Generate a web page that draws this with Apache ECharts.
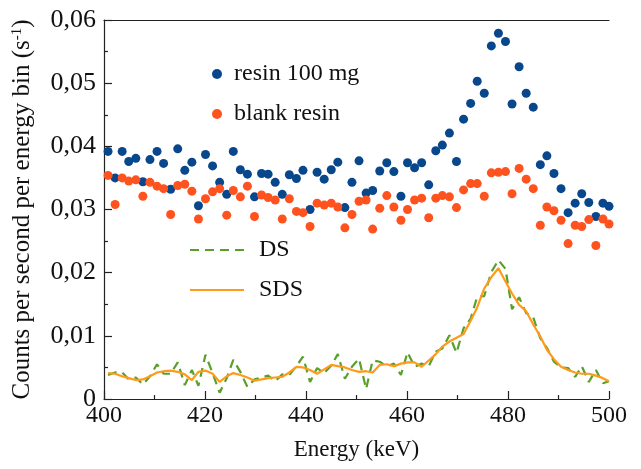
<!DOCTYPE html>
<html>
<head>
<meta charset="utf-8">
<script src="https://cdn.jsdelivr.net/npm/echarts@6/dist/echarts.min.js"></script>
<style>
html, body { margin: 0; padding: 0; background: #fff; }
#chart { width: 641px; height: 469px; }
</style>
</head>
<body>
<div id="chart"></div>
<script>
// ************ data ************
var energy = [
    400.8, 402.2, 403.6, 404.9, 406.3, 407.7, 409.1, 410.5, 411.8, 413.2,
    414.6, 416.0, 417.4, 418.7, 420.1, 421.5, 422.9, 424.3, 425.6, 427.0,
    428.4, 429.8, 431.2, 432.5, 433.9, 435.3, 436.7, 438.1, 439.4, 440.8,
    442.2, 443.6, 445.0, 446.3, 447.7, 449.1, 450.5, 451.9, 453.2, 454.6,
    456.0, 457.4, 458.8, 460.1, 461.5, 462.9, 464.3, 465.7, 467.0, 468.4,
    469.8, 471.2, 472.6, 473.9, 475.3, 476.7, 478.1, 479.5, 480.8, 482.2,
    483.6, 485.0, 486.4, 487.7, 489.1, 490.5, 491.9, 493.3, 494.6, 496.0,
    497.4, 498.8, 500.0
];

var resin100 = [
    0.0392, 0.0350, 0.0392, 0.0376, 0.0381, 0.0344, 0.0379, 0.0392, 0.0373, 0.0332,
    0.0396, 0.0362, 0.0375, 0.0306, 0.0387, 0.0369, 0.0343, 0.0324, 0.0392, 0.0363,
    0.0356, 0.0320, 0.0357, 0.0356, 0.0343, 0.0324, 0.0355, 0.0349, 0.0362, 0.0300,
    0.0359, 0.0348, 0.0363, 0.0375, 0.0303, 0.0343, 0.0377, 0.0326, 0.0330, 0.0361,
    0.0374, 0.0360, 0.0321, 0.0374, 0.0366, 0.0374, 0.0339, 0.0393, 0.0402, 0.0421,
    0.0376, 0.0443, 0.0468, 0.0503, 0.0484, 0.0559, 0.0579, 0.0566, 0.0467, 0.0526,
    0.0484, 0.0462, 0.0371, 0.0385, 0.0357, 0.0333, 0.0295, 0.0310, 0.0325, 0.0311,
    0.0289, 0.0310, 0.0305
];

var blankResin = [
    0.0354, 0.0308, 0.0350, 0.0345, 0.0347, 0.0321, 0.0343, 0.0337, 0.0333, 0.0292,
    0.0338, 0.0340, 0.0329, 0.0285, 0.0317, 0.0328, 0.0333, 0.0291, 0.0330, 0.0320,
    0.0337, 0.0289, 0.0323, 0.0319, 0.0315, 0.0285, 0.0317, 0.0297, 0.0295, 0.0273,
    0.0310, 0.0307, 0.0310, 0.0304, 0.0271, 0.0292, 0.0313, 0.0315, 0.0269, 0.0302,
    0.0322, 0.0304, 0.0283, 0.0300, 0.0315, 0.0318, 0.0287, 0.0318, 0.0322, 0.0320,
    0.0303, 0.0331, 0.0341, 0.0341, 0.0321, 0.0358, 0.0359, 0.0360, 0.0325, 0.0365,
    0.0348, 0.0333, 0.0275, 0.0304, 0.0298, 0.0283, 0.0246, 0.0275, 0.0273, 0.0284,
    0.0243, 0.0285, 0.0277
];

var dsValues = [
    0.0038, 0.0042, 0.0042, 0.0031, 0.0034, 0.0023, 0.0036, 0.0055, 0.0040, 0.0040,
    0.0058, 0.0022, 0.0046, 0.0021, 0.0070, 0.0041, 0.0010, 0.0033, 0.0062, 0.0043,
    0.0019, 0.0031, 0.0034, 0.0037, 0.0028, 0.0039, 0.0038, 0.0052, 0.0067, 0.0027,
    0.0049, 0.0041, 0.0053, 0.0071, 0.0032, 0.0051, 0.0064, 0.0016, 0.0061, 0.0059,
    0.0052, 0.0056, 0.0038, 0.0074, 0.0051, 0.0056, 0.0052, 0.0075, 0.0080, 0.0101,
    0.0073, 0.0112, 0.0127, 0.0162, 0.0163, 0.0201, 0.0220, 0.0206, 0.0142, 0.0161,
    0.0136, 0.0129, 0.0096, 0.0081, 0.0059, 0.0050, 0.0049, 0.0035, 0.0052, 0.0027,
    0.0046, 0.0025, 0.0028
];

var sdsValues = [
    0.0041, 0.0040, 0.0036, 0.0033, 0.0030, 0.0031, 0.0036, 0.0042, 0.0044, 0.0045,
    0.0043, 0.0039, 0.0030, 0.0043, 0.0045, 0.0040, 0.0027, 0.0036, 0.0041, 0.0038,
    0.0034, 0.0029, 0.0031, 0.0033, 0.0034, 0.0035, 0.0042, 0.0051, 0.0050, 0.0046,
    0.0040, 0.0047, 0.0054, 0.0052, 0.0050, 0.0046, 0.0043, 0.0044, 0.0042, 0.0054,
    0.0055, 0.0052, 0.0056, 0.0058, 0.0058, 0.0051, 0.0061, 0.0071, 0.0083, 0.0091,
    0.0097, 0.0103, 0.0124, 0.0145, 0.0175, 0.0193, 0.0207, 0.0186, 0.0167, 0.0149,
    0.0139, 0.0118, 0.0099, 0.0078, 0.0063, 0.0051, 0.0046, 0.0042, 0.0040, 0.0040,
    0.0037, 0.0033, 0.0028
];

function pairs(xs, ys) {
    var out = [];
    for (var i = 0; i < xs.length; i++) {
        out.push([xs[i], ys[i]]);
    }
    return out;
}

// ************ chart ************
var serif = "'Liberation Serif', 'Times New Roman', serif";
var chart = echarts.init(document.getElementById('chart'));

function legendBox(name, left, top, padLeft, isLine) {
    return {
        data: [name],
        left: left,
        top: top,
        orient: 'vertical',
        itemWidth: isLine ? 54 : 10,
        itemHeight: 10,
        selectedMode: false,
        itemStyle: isLine ? { opacity: 0 } : {},
        textStyle: {
            fontFamily: serif,
            fontSize: 24,
            color: '#111',
            padding: [0, 0, 0, padLeft]
        }
    };
}

var axisColor = '#222';

var option = {
    animation: false,
    backgroundColor: '#fff',
    grid: {
        left: 104,
        right: 32,
        top: 20,
        bottom: 70
    },
    legend: [
        legendBox('resin 100 mg', 207, 57, 7, false),
        legendBox('blank resin', 207, 97, 7, false),
        legendBox('DS', 184, 233, 10, true),
        legendBox('SDS', 184, 273, 10, true)
    ],
    xAxis: [
        {
            type: 'value',
            min: 400,
            max: 500,
            interval: 20,
            name: 'Energy (keV)',
            nameLocation: 'middle',
            nameGap: 39,
            nameTextStyle: { fontFamily: serif, fontSize: 23, color: '#111' },
            axisLine: { lineStyle: { color: axisColor, width: 1.2 } },
            axisTick: { inside: true, length: 8, lineStyle: { color: axisColor, width: 1.2 } },
            minorTick: { show: true, splitNumber: 2, length: 4, lineStyle: { color: axisColor, width: 1.2 } },
            axisLabel: { fontFamily: serif, fontSize: 24, color: '#111', margin: 5 },
            splitLine: { show: false }
        },
        {
            // top frame line only
            type: 'value',
            position: 'top',
            min: 400,
            max: 500,
            axisLine: { show: true, lineStyle: { color: axisColor, width: 1.2 } },
            axisTick: { show: false },
            axisLabel: { show: false },
            splitLine: { show: false }
        }
    ],
    yAxis: {
        type: 'value',
        min: 0,
        max: 0.06,
        interval: 0.01,
        name: 'Counts per second per energy bin (s{sup|-1})',
        nameLocation: 'middle',
        nameGap: 69,
        nameRotate: 90,
        nameTextStyle: {
            fontFamily: serif,
            fontSize: 25,
            color: '#111',
            rich: {
                sup: { fontFamily: serif, fontSize: 15, color: '#111', verticalAlign: 'top', padding: [0, 0, 10, 0] }
            }
        },
        axisLine: { show: true, lineStyle: { color: axisColor, width: 1.2 } },
        axisTick: { show: true, inside: true, length: 8, lineStyle: { color: axisColor, width: 1.2 } },
        minorTick: { show: true, splitNumber: 2, length: 4, lineStyle: { color: axisColor, width: 1.2 } },
        axisLabel: {
            fontFamily: serif,
            fontSize: 26,
            color: '#111',
            margin: 8,
            formatter: function (v) {
                return v === 0 ? '0' : v.toFixed(2).replace('.', ',');
            }
        },
        splitLine: { show: false }
    },
    series: [
        {
            name: 'resin 100 mg',
            type: 'scatter',
            data: pairs(energy, resin100),
            symbol: 'circle',
            symbolSize: 9,
            clip: false,
            itemStyle: { color: '#08478c', opacity: 1 }
        },
        {
            name: 'blank resin',
            type: 'scatter',
            data: pairs(energy, blankResin),
            symbol: 'circle',
            symbolSize: 9,
            clip: false,
            itemStyle: { color: '#ff531f', opacity: 1 }
        },
        {
            name: 'DS',
            type: 'line',
            data: pairs(energy, dsValues),
            symbol: 'none',
            itemStyle: { color: '#58a02a' },
            lineStyle: { color: '#58a02a', width: 2.2, type: [9, 6] }
        },
        {
            name: 'SDS',
            type: 'line',
            data: pairs(energy, sdsValues),
            symbol: 'none',
            itemStyle: { color: '#ff9a1a' },
            lineStyle: { color: '#ff9a1a', width: 2.2 }
        }
    ]
};

chart.setOption(option);
</script>
</body>
</html>
